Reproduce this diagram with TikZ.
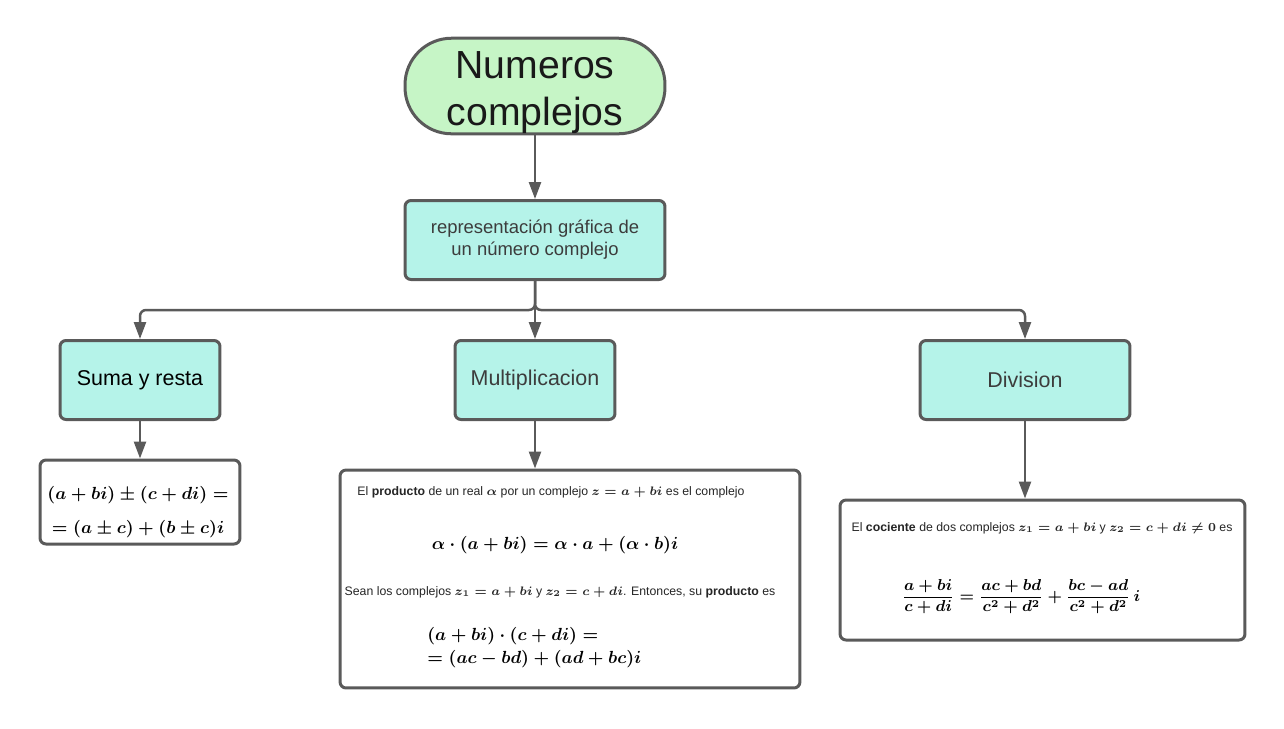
\documentclass[tikz,border=0pt]{standalone}
\usepackage{fontspec}
\setsansfont{Liberation Sans}
\usepackage{amsmath}
\usetikzlibrary{arrows.meta}

\definecolor{linegray}{HTML}{5A5A5A}
\definecolor{textgray}{HTML}{3C3C3C}
\definecolor{titlegreen}{HTML}{C6F5C6}
\definecolor{boxteal}{HTML}{B5F3E9}

\tikzset{
  conn/.style={-{Triangle[length=0.34cm,width=0.24cm]},line width=0.05cm,draw=linegray},
  titlebox/.style={draw=linegray,line width=0.06cm,fill=titlegreen,rounded corners=0.93cm,
    minimum width=5.2cm,minimum height=1.86cm,align=center,inner sep=0pt,
    font=\sffamily\fontsize{22.3}{27}\selectfont,text=black!90},
  conceptbox/.style={draw=linegray,line width=0.06cm,fill=boxteal,rounded corners=0.12cm,
    minimum height=1.58cm,align=center,font=\sffamily\fontsize{12.2}{14}\selectfont,text=textgray},
  formulabox/.style={draw=linegray,line width=0.06cm,fill=white,rounded corners=0.12cm},
  smalltext/.style={font=\sffamily\fontsize{7}{8}\selectfont\boldmath,text=black!85,inner sep=0pt},
  bigformula/.style={font=\fontsize{10}{13}\selectfont\boldmath,align=left,inner sep=0pt},
}

\begin{document}
\begin{tikzpicture}[x=0.02cm,y=-0.02cm]

\useasboundingbox (0,0) rectangle (1284,728);

%%%%%%%%%%%%%%%%%%%%%%%%%%%%%%%%%%%%%%%%%%%%%%%%%%%%%%%%%%%%%%%%%
\node [titlebox] (title) at (535,86) {\rule{0pt}{0.8cm}Numeros\\complejos};

\node [conceptbox,minimum width=5.2cm,font=\sffamily\fontsize{10.5}{12.5}\selectfont] (repr) at (535,240)
  {representación gráfica de\\un número complejo};
\draw [conn] (title.south) -- (repr.north);

%%%%%%%%%%%%%%%%%%%%%%%%%%%%%%
\node [conceptbox,minimum width=3.2cm,text=black] (suma) at (140,380) {Suma y resta};
\node [conceptbox,minimum width=3.2cm] (mult) at (535,380) {Multiplicacion};
\node [conceptbox,minimum width=4.2cm] (div) at (1025,380) {Division};

\coordinate (branch) at (535,310);
\draw [conn,rounded corners=0.12cm] (repr.south) -- (branch) -| (suma.north);
\draw [conn] (repr.south) -- (mult.north);
\draw [conn,rounded corners=0.12cm] (repr.south) -- (branch) -| (div.north);

%%%%%%%%%%%%%%%%%%%%%%%%%%%%%%
\node [formulabox,minimum width=4.0cm,minimum height=1.68cm] (sumaf) at (140,502) {};
\draw [conn] (suma.south) -- (sumaf.north);
\node [bigformula,align=center,font=\fontsize{10.2}{13}\selectfont\boldmath] (sumatext) at (138,512)
  {$(a+bi)\pm(c+di)=$\\[0.22cm]$=(a\pm c)+(b\pm c)i$};

%%%%%%%%%%%%%%%%%%%%%%%%%%%%%%
\node [formulabox,minimum width=9.2cm,minimum height=4.36cm] (multf) at (570,579) {};
\draw [conn] (mult.south) -- (mult.south |- multf.north);

\node [smalltext] (prod1) at (551,492)
  {El \textbf{producto} de un real $\alpha$ por un complejo $z=a+bi$ es el complejo};
\node [bigformula] (prod2) at (555,545) {$\alpha\cdot(a+bi)=\alpha\cdot a+(\alpha\cdot b)i$};
\node [smalltext] (prod3) at (560,592)
  {Sean los complejos $z_1=a+bi$ y $z_2=c+di$. Entonces, su \textbf{producto} es};
\node [bigformula,anchor=west] (prod4) at (427,648)
  {$(a+bi)\cdot(c+di)=$\\$=(ac-bd)+(ad+bc)i$};

%%%%%%%%%%%%%%%%%%%%%%%%%%%%%%
\node [formulabox,minimum width=8.1cm,minimum height=2.8cm] (divf) at (1042.5,570) {};
\draw [conn] (div.south) -- (div.south |- divf.north);

\node [smalltext] (coc1) at (1042,528)
  {El \textbf{cociente} de dos complejos $z_1=a+bi$ y $z_2=c+di\neq 0$ es};
\node [bigformula,font=\fontsize{8.8}{11}\selectfont\boldmath] (coc2) at (1021,597)
  {$\dfrac{a+bi}{c+di}=\dfrac{ac+bd}{c^2+d^2}+\dfrac{bc-ad}{c^2+d^2}\,i$};

%%%%%%%%%%%%%%%%%%%%%%%%%%%%%%%%%%%%%%%%%%%%%%%%%%%%%%%%%%%%%%%%%

\end{tikzpicture}
\end{document}
